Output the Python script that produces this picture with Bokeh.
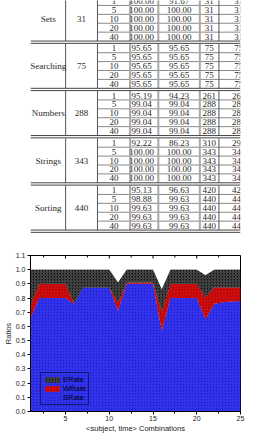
import math
from bokeh.plotting import figure
from bokeh.layouts import column
from bokeh.models import (Range1d, ColumnDataSource, Legend, LegendItem,
                          SingleIntervalTicker, FixedTicker, PrintfTickFormatter)
from bokeh.embed import file_html
from bokeh.resources import INLINE

# ---------------- data: table ----------------
subjects = ["Sets", "Searching", "Numbers", "Strings", "Sorting"]
subject_sizes = ["31", "75", "288", "343", "440"]
times = ["1", "5", "10", "20", "40"]
col_d = [["100.00", "100.00", "100.00", "100.00", "100.00"],
         ["95.65", "95.65", "95.65", "95.65", "95.65"],
         ["95.19", "99.04", "99.04", "99.04", "99.04"],
         ["92.22", "100.00", "100.00", "100.00", "100.00"],
         ["95.13", "98.88", "99.63", "99.63", "99.63"]]
col_e = [["91.67", "100.00", "100.00", "100.00", "100.00"],
         ["95.65", "95.65", "95.65", "95.65", "95.65"],
         ["94.23", "99.04", "99.04", "99.04", "99.04"],
         ["86.23", "100.00", "100.00", "100.00", "100.00"],
         ["96.63", "99.63", "99.63", "99.63", "99.63"]]
col_f = [["31", "31", "31", "31", "31"],
         ["75", "75", "75", "75", "75"],
         ["261", "288", "288", "288", "288"],
         ["310", "343", "343", "343", "343"],
         ["420", "440", "440", "440", "440"]]
col_g = [["31", "31", "31", "31", "31"],
         ["75", "75", "75", "75", "75"],
         ["261", "288", "288", "288", "288"],
         ["296", "343", "343", "343", "343"],
         ["425", "440", "440", "440", "440"]]

# ---------------- data: chart ----------------
combos = list(range(1, 26))
SRate = [0.66, 0.80, 0.80, 0.80, 0.80, 0.76, 0.875, 0.875, 0.875, 0.875,
         0.71, 0.90, 0.90, 0.90, 0.90, 0.57, 0.80, 0.80, 0.80, 0.80,
         0.65, 0.76, 0.77, 0.775, 0.78]
WRate = [0.09, 0.10, 0.10, 0.10, 0.10, 0.00, 0.00, 0.00, 0.00, 0.00,
         0.06, 0.01, 0.01, 0.01, 0.01, 0.135, 0.10, 0.10, 0.10, 0.10,
         0.155, 0.115, 0.105, 0.10, 0.095]
ERate = [0.25, 0.10, 0.10, 0.10, 0.10, 0.24, 0.125, 0.125, 0.125, 0.125,
         0.14, 0.09, 0.09, 0.09, 0.09, 0.155, 0.10, 0.10, 0.10, 0.10,
         0.155, 0.125, 0.125, 0.125, 0.125]
y_ticks = [0.0, 0.1, 0.2, 0.3, 0.4, 0.5, 0.6, 0.7, 0.8, 0.9, 1.0, 1.1]
x_major_ticks = [5, 10, 15, 20, 25]
x_minor_ticks = [2.5, 7.5, 12.5, 17.5, 22.5]

# ================= table figure =================
W = 253
TH = 240
t = figure(width=W, height=TH, x_range=Range1d(0, W), y_range=Range1d(TH, 0),
           output_backend="svg", toolbar_location=None,
           x_axis_type=None, y_axis_type=None, min_border=0,
           min_border_left=0, min_border_right=0, min_border_top=0, min_border_bottom=0)
t.outline_line_color = None
t.grid.visible = False

row_h = 8.9
block_pitch = 47.25
first_center = 18.3
col_edges_thin = [42.3, 80.7, 227.0]
col_edges_thick = [120.0, 154.0, 204.0]
cx = [21.5, 61.5, 100.5, 134.0, 179.0, 215.5, 251.0]

tx, ty, tt = [], [], []
hx0, hx1, hy = [], [], []
dx0, dx1, dy = [], [], []
vx_thin, vy0_thin, vy1_thin = [], [], []
vx_thick, vy0_thick, vy1_thick = [], [], []
for b in range(len(subjects)):
    c = first_center + b * block_pitch
    top = c - 2.5 * row_h
    bot = c + 2.5 * row_h
    tx += [cx[0], cx[1]]
    ty += [c, c]
    tt += [subjects[b], subject_sizes[b]]
    for r in range(5):
        yc = top + (r + 0.5) * row_h
        for k, val in enumerate([times[r], col_d[b][r], col_e[b][r], col_f[b][r], col_g[b][r]]):
            tx.append(cx[2 + k]); ty.append(yc); tt.append(val)
        if r > 0:
            hx0.append(80.7); hx1.append(W); hy.append(top + r * row_h)
    for yy in (bot, bot + 2.3):
        dx0.append(0); dx1.append(W); dy.append(yy)
    for xe in col_edges_thin:
        vx_thin.append(xe); vy0_thin.append(top); vy1_thin.append(bot)
    for xe in col_edges_thick:
        vx_thick.append(xe); vy0_thick.append(top); vy1_thick.append(bot)

t.segment(x0=hx0, x1=hx1, y0=hy, y1=hy, line_color="#8a8a8a", line_width=1)
t.segment(x0=vx_thick, x1=vx_thick, y0=vy0_thick, y1=vy1_thick, line_color="#a8a8a8", line_width=2)
t.segment(x0=vx_thin, x1=vx_thin, y0=vy0_thin, y1=vy1_thin, line_color="#555555", line_width=1)
t.segment(x0=dx0, x1=dx1, y0=dy, y1=dy, line_color="#444444", line_width=1)
t.text(x=tx, y=ty, text=tt, text_align="center", text_baseline="middle",
       text_font="Liberation Serif", text_font_size="9px", text_color="#2a2a2a")

# ================= chart figure =================
src = ColumnDataSource(dict(x=combos, SRate=SRate, WRate=WRate, ERate=ERate))
p = figure(width=W, height=435 - TH, x_range=Range1d(1, 25), y_range=Range1d(0, 1.1),
           output_backend="svg", toolbar_location=None,
           min_border_left=28, min_border_right=13, min_border_top=15, min_border_bottom=23)
p.grid.visible = False
p.outline_line_color = "black"
p.outline_line_width = 1

rs = p.varea_stack(["SRate", "WRate", "ERate"], x="x", source=src,
                   fill_color=["#1c1cdc", "#e41414", "#121212"],
                   hatch_pattern="/", hatch_scale=3.0, hatch_weight=0.8,
                   hatch_color=["#4848f4", "#a00000", "#6a6a6a"])

# inward ticks on the top edge (half of each vertical dash is clipped by the frame)
p.scatter(x=x_major_ticks, y=[1.1] * len(x_major_ticks), marker="dash", angle=math.pi / 2,
          size=6, line_color="black", line_width=1)
p.scatter(x=x_minor_ticks, y=[1.1] * len(x_minor_ticks), marker="dash", angle=math.pi / 2,
          size=4, line_color="black", line_width=1)

xa = p.xaxis[0]
xa.ticker = SingleIntervalTicker(interval=5, num_minor_ticks=2)
xa.axis_label = "<subject, time> Combinations"
ya = p.yaxis[0]
ya.ticker = FixedTicker(ticks=y_ticks)
ya.formatter = PrintfTickFormatter(format="%.1f")
ya.axis_label = "Ratios"
for ax in (xa, ya):
    ax.major_label_text_font = "Liberation Sans"
    ax.major_label_text_font_size = "7px"
    ax.major_label_text_color = "#222222"
    ax.axis_label_text_font = "Liberation Sans"
    ax.axis_label_text_font_size = "7.5px"
    ax.axis_label_text_font_style = "normal"
    ax.axis_label_text_color = "#222222"
    ax.major_tick_in = 0
    ax.major_tick_out = 3
    ax.minor_tick_in = 0
    ax.minor_tick_out = 2
    ax.major_label_standoff = 1
    ax.axis_label_standoff = 0
    ax.axis_line_color = "black"
ya.minor_tick_out = 0
ya.major_label_standoff = 2

legend = Legend(items=[LegendItem(label="ERate", renderers=[rs[2]]),
                       LegendItem(label="WRate", renderers=[rs[1]]),
                       LegendItem(label="SRate", renderers=[rs[0]])],
                location=(10, 6), margin=0, padding=2, spacing=0,
                glyph_width=18, glyph_height=7, label_height=8, label_standoff=2,
                label_text_font="Liberation Sans", label_text_font_size="7.5px",
                label_text_color="#000000", border_line_color="black",
                background_fill_alpha=0.0)
p.add_layout(legend, "center")

layout = column(t, p, spacing=0)
open("out.html", "w").write(file_html(layout, INLINE))
